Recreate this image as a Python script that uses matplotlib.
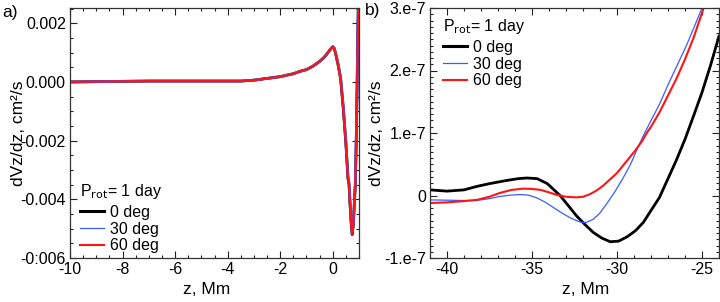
import matplotlib
matplotlib.use("Agg")
import matplotlib.pyplot as plt
from matplotlib.ticker import FixedLocator, FixedFormatter, MultipleLocator
from matplotlib.lines import Line2D

plt.rcParams['font.family'] = ['Liberation Sans', 'DejaVu Sans']
plt.rcParams['axes.unicode_minus'] = False

# ---------------- Panel a data ----------------
z_a = [-10, -9, -8, -7, -6, -5, -4, -3.5, -3, -2.5, -2, -1.5, -1.25, -1, -0.75, -0.5, -0.35,
       -0.25, -0.1, 0.0, 0.05, 0.1, 0.2, 0.3, 0.4, 0.5, 0.58, 0.62, 0.66, 0.7, 0.74, 0.78,
       0.82, 0.86, 0.9, 0.93, 0.96, 1.0]
a_0 = [0.0, 0.00001, 0.00002, 0.00003, 0.00003, 0.00003, 0.00003, 0.00003, 0.00006, 0.00012,
       0.00018, 0.00028, 0.00036, 0.00042, 0.00054, 0.0007, 0.00082, 0.00092, 0.0011, 0.0012,
       0.00115, 0.001, 0.0006, 0.0001, -0.0009, -0.0021, -0.0033, -0.0035, -0.0042, -0.0048,
       -0.0052, -0.0049, -0.0042, -0.0035, -0.0018, 0.0, 0.002, 0.0035]
a_30 = [0.0, 0.00001, 0.00002, 0.00003, 0.00003, 0.00003, 0.00003, 0.00003, 0.00006, 0.00012,
        0.00018, 0.00028, 0.00036, 0.00042, 0.00054, 0.0007, 0.00082, 0.00092, 0.0011, 0.0012,
        0.00117, 0.00103, 0.00065, 0.00016, -0.0008, -0.002, -0.0032, -0.0034, -0.0041, -0.0047,
        -0.0051, -0.0049, -0.0042, -0.0034, -0.0017, 0.0001, 0.002, 0.0035]
a_60 = [0.0, 0.00001, 0.00002, 0.00003, 0.00003, 0.00003, 0.00003, 0.00003, 0.00006, 0.00012,
        0.00018, 0.00028, 0.00036, 0.00042, 0.00054, 0.0007, 0.00082, 0.00092, 0.0011, 0.0012,
        0.00115, 0.001, 0.0006, 0.0001, -0.0009, -0.0021, -0.0033, -0.0035, -0.0042, -0.0048,
        -0.0052, -0.0049, -0.0042, -0.0035, -0.0018, 0.0, 0.0019, 0.0035]

a_yticks = [0.002, 0.0, -0.002, -0.004, -0.006]
a_yticklabels = ["0.002", "0.000", "-0.002", "-0.004", "-0:006"]
a_xticks = [-10, -8, -6, -4, -2, 0]

# ---------------- Panel b data ----------------
z_b0 = [-41, -40, -39, -38.25, -37.5, -36.5, -35.8, -35.3, -34.7, -34.1, -33.35, -32.9, -32.4,
        -31.9, -31.4, -30.9, -30.4, -29.9, -29.4, -28.9, -28.45, -28, -27.5, -27, -26.5, -26,
        -25.5, -25, -24.5, -24]
b_0 = [0.09, 0.07, 0.09, 0.145, 0.19, 0.24, 0.27, 0.28, 0.27, 0.19, 0.0, -0.15, -0.32, -0.46,
       -0.59, -0.68, -0.74, -0.73, -0.66, -0.56, -0.43, -0.24, -0.03, 0.27, 0.57, 0.9, 1.27,
       1.65, 2.08, 2.55]

z_b30 = [-41, -40, -39, -38.25, -37.5, -36.9, -36.3, -35.7, -35.2, -34.7, -34.2, -33.75, -33.3,
         -32.8, -32.4, -32.1, -31.8, -31.4, -31, -30.6, -30.1, -29.6, -29.2, -28.85, -28.5,
         -28, -27.5, -27, -26.5, -25.9, -25.5, -25, -24.85]
b_30 = [-0.07, -0.075, -0.08, -0.08, -0.05, -0.016, 0.005, 0.016, 0.005, -0.04, -0.11, -0.19,
        -0.27, -0.35, -0.4, -0.43, -0.43, -0.38, -0.28, -0.13, 0.07, 0.3, 0.5, 0.72, 0.93,
        1.2, 1.46, 1.77, 2.06, 2.41, 2.67, 3.0, 3.1]

z_b60 = [-41, -40, -39, -38.25, -37.5, -36.9, -36.2, -35.5, -35, -34.5, -34, -33.55, -33,
         -32.4, -32, -31.6, -31.2, -30.8, -30.4, -30, -29.4, -28.9, -28.5, -28.25, -28, -27.5,
         -27, -26.5, -26, -25.5, -25, -24.8]
b_60 = [-0.12, -0.11, -0.09, -0.07, -0.02, 0.04, 0.09, 0.11, 0.105, 0.09, 0.05, 0.01, -0.02,
        -0.03, -0.02, 0.02, 0.08, 0.16, 0.26, 0.36, 0.56, 0.73, 0.88, 1.0, 1.1, 1.33, 1.6,
        1.87, 2.18, 2.52, 2.92, 3.1]

b_scale = 1e-7
b_yticks = [3, 2, 1, 0, -1]
b_yticklabels = ["3.e-7", "2.e-7", "1.e-7", "0", "-1.e-7"]
b_xticks = [-40, -35, -30, -25]

labels = ["0 deg", "30 deg", "60 deg"]
colors = ["#000000", "#3a5cff", "#ff1414"]
legend_title = "P$_{\\rm rot}$= 1 day"

fig = plt.figure(figsize=(7.2, 3.02), dpi=100)
axa = fig.add_axes([70 / 720, 44 / 302, 289 / 720, 250 / 302])
axb = fig.add_axes([430 / 720, 44 / 302, 289 / 720, 250 / 302])

FS = 11.5

# panel a
axa.plot(z_a, a_0, color=colors[0], lw=2.0)
axa.plot(z_a, a_30, color=colors[1], lw=2.0)
axa.plot(z_a, a_60, color=colors[2], lw=1.6)
axa.set_xlim(-10, 1.0)
axa.set_ylim(-0.006, 0.00252)
axa.yaxis.set_major_locator(FixedLocator(a_yticks))
axa.yaxis.set_major_formatter(FixedFormatter(a_yticklabels))
axa.yaxis.set_minor_locator(MultipleLocator(0.0005))
axa.xaxis.set_major_locator(FixedLocator(a_xticks))
axa.xaxis.set_minor_locator(MultipleLocator(0.5))

# panel b
yb0 = [v * b_scale for v in b_0]
yb30 = [v * b_scale for v in b_30]
yb60 = [v * b_scale for v in b_60]
axb.plot(z_b0, yb0, color=colors[0], lw=2.0)
axb.plot(z_b30, yb30, color=colors[1], lw=0.9)
axb.plot(z_b60, yb60, color=colors[2], lw=1.5)
axb.set_xlim(-41, -24)
axb.set_ylim(-1e-7, 3e-7)
axb.yaxis.set_major_locator(FixedLocator([t * b_scale for t in b_yticks]))
axb.yaxis.set_major_formatter(FixedFormatter(b_yticklabels))
axb.yaxis.set_minor_locator(MultipleLocator(0.1e-7))
axb.xaxis.set_major_locator(FixedLocator(b_xticks))
axb.xaxis.set_minor_locator(MultipleLocator(1))

for ax in (axa, axb):
    ax.tick_params(which='both', direction='in', top=True, right=True, labelsize=FS,
                   width=0.8, color='#222222')
    ax.tick_params(which='major', length=5, pad=3)
    ax.tick_params(which='minor', length=2.5)
    for s in ax.spines.values():
        s.set_linewidth(0.9)
        s.set_color('#333333')
    ax.set_ylabel("dVz/dz, cm²/s", fontsize=FS + 1)
    ax.set_xlabel("z, Mm", fontsize=FS + 1)

axa.yaxis.set_label_coords(-0.152, 0.5)
axb.yaxis.set_label_coords(-0.16, 0.5)
axa.xaxis.set_label_coords(0.474, -0.098)
axb.xaxis.set_label_coords(0.54, -0.098)

handles = [Line2D([], [], color=colors[0], lw=2.2),
           Line2D([], [], color=colors[1], lw=0.9),
           Line2D([], [], color=colors[2], lw=1.5)]
for ax, loc in ((axa, (0.035, 0.305)), (axb, (0.045, 0.965))):
    leg = ax.legend(handles, labels, title=legend_title, loc='upper left',
                    bbox_to_anchor=loc, frameon=False, fontsize=FS, title_fontsize=FS,
                    handlelength=1.5, handletextpad=0.4, labelspacing=0.1,
                    borderaxespad=0.0, borderpad=0.0)
    leg._legend_box.align = "left"
    leg._legend_box.sep = 3

fig.text(2 / 720, 1 - 13 / 302, "a)", fontsize=FS + 1, va='center', ha='left')
fig.text(365 / 720, 1 - 11 / 302, "b)", fontsize=FS + 1, va='center', ha='left')

fig.savefig("out.png", dpi=100)
